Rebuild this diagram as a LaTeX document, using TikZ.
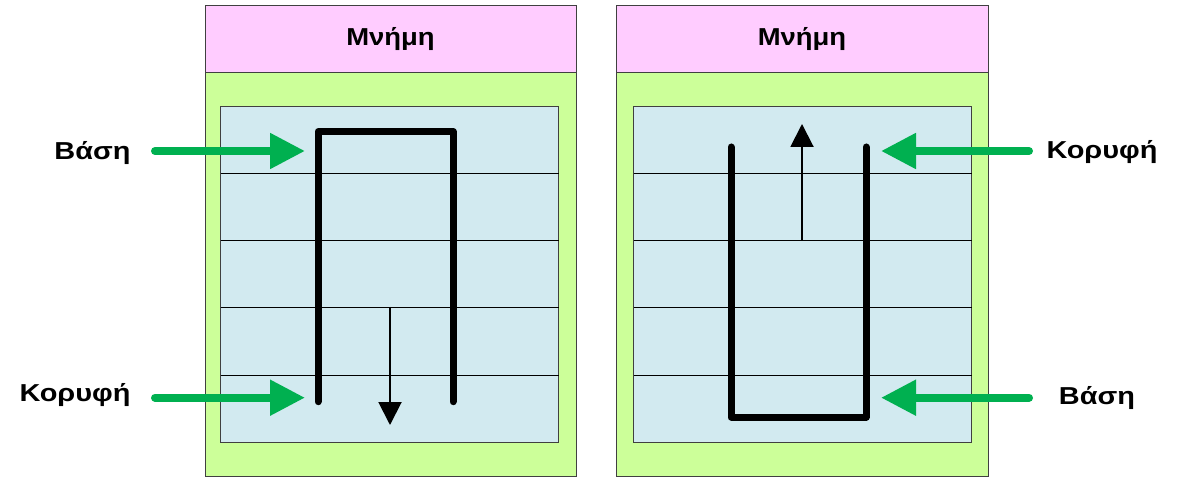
\documentclass[tikz,border=0pt]{standalone}
\usepackage{fontspec}
\setmainfont{Liberation Sans}
\newfontfamily\lblfont[FakeStretch=1.18]{Liberation Sans}
\newfontfamily\ttlfont[FakeStretch=1.12]{Liberation Sans}
\usetikzlibrary{arrows.meta}
\definecolor{hdrpink}{HTML}{FFCCFF}
\definecolor{bodygreen}{HTML}{CCFF99}
\definecolor{cellblue}{HTML}{D2EAF0}
\definecolor{arrowgreen}{HTML}{00B050}
\definecolor{edgegray}{HTML}{404040}
\begin{document}
\begin{tikzpicture}[x=1pt,y=-1pt,
  box/.style={draw=edgegray,line width=0.9pt,inner sep=0pt,outer sep=0pt,anchor=north west},
  rowline/.style={draw=black,line width=0.8pt},
  title/.style={font=\ttlfont\bfseries\fontsize{24.5}{30}\selectfont,anchor=base},
  lbl/.style={font=\lblfont\bfseries\fontsize{24.5}{30}\selectfont,anchor=base},
  garrow/.style={draw=arrowgreen,line width=8pt,line cap=round,-{Triangle[length=35pt,width=34pt]}},
  stackline/.style={draw=black,line width=7pt,line cap=round,line join=round},
  dirarrow/.style={draw=black,line width=2pt,-{Triangle[length=23pt,width=23pt]}}]
\useasboundingbox (0,0) rectangle (1178,478);
% ---------- left panel ----------
\node[box,fill=bodygreen,minimum width=371pt,minimum height=404pt] (Lbody) at (205,72) {};
\node[box,fill=hdrpink,minimum width=371pt,minimum height=67pt] (Lhead) at (205,5) {};
\node[box,fill=cellblue,minimum width=338pt,minimum height=336.5pt] (Lgrid) at (220.7,106) {};
\foreach \yy in {173.3,240.6,307.9,375.2}{\draw[rowline] (220.7,\yy) -- (558.7,\yy);}
\node[title] (Ltitle) at (390.5,45.5) {Μνήμη};
\draw[stackline] (318,401.7) -- (318,131.5) -- (453,131.5) -- (453,401.7);
\coordinate (Ldown0) at (390,307);
\coordinate (Ldown1) at (390,425);
\draw[dirarrow] (Ldown0) -- (Ldown1);
\node[lbl] (Lbase) at (92.5,159.3) {Βάση};
\node[lbl] (Ltop) at (75,401.7) {Κορυφή};
\coordinate (LbaseS) at (155,151);
\coordinate (LbaseT) at (305,151);
\coordinate (LtopS) at (155,397.7);
\coordinate (LtopT) at (305,397.7);
\draw[garrow] (LbaseS) -- (LbaseT);
\draw[garrow] (LtopS) -- (LtopT);
% ---------- right panel ----------
\node[box,fill=bodygreen,minimum width=372.7pt,minimum height=404pt] (Rbody) at (616,72) {};
\node[box,fill=hdrpink,minimum width=372.7pt,minimum height=67pt] (Rhead) at (616,5) {};
\node[box,fill=cellblue,minimum width=338pt,minimum height=336.5pt] (Rgrid) at (633.7,106) {};
\foreach \yy in {173.3,240.6,307.9,375.2}{\draw[rowline] (633.7,\yy) -- (971.7,\yy);}
\node[title] (Rtitle) at (802,45.5) {Μνήμη};
\draw[stackline] (731,147) -- (731,417) -- (866,417) -- (866,147);
\coordinate (Rup0) at (802,240.6);
\coordinate (Rup1) at (802,124);
\draw[dirarrow] (Rup0) -- (Rup1);
\node[lbl] (Rtop) at (1102,158.5) {Κορυφή};
\node[lbl] (Rbase) at (1097,404) {Βάση};
\coordinate (RtopS) at (1029,151);
\coordinate (RtopT) at (881,151);
\coordinate (RbaseS) at (1029,397.7);
\coordinate (RbaseT) at (881,397.7);
\draw[garrow] (RtopS) -- (RtopT);
\draw[garrow] (RbaseS) -- (RbaseT);
\end{tikzpicture}
\end{document}
